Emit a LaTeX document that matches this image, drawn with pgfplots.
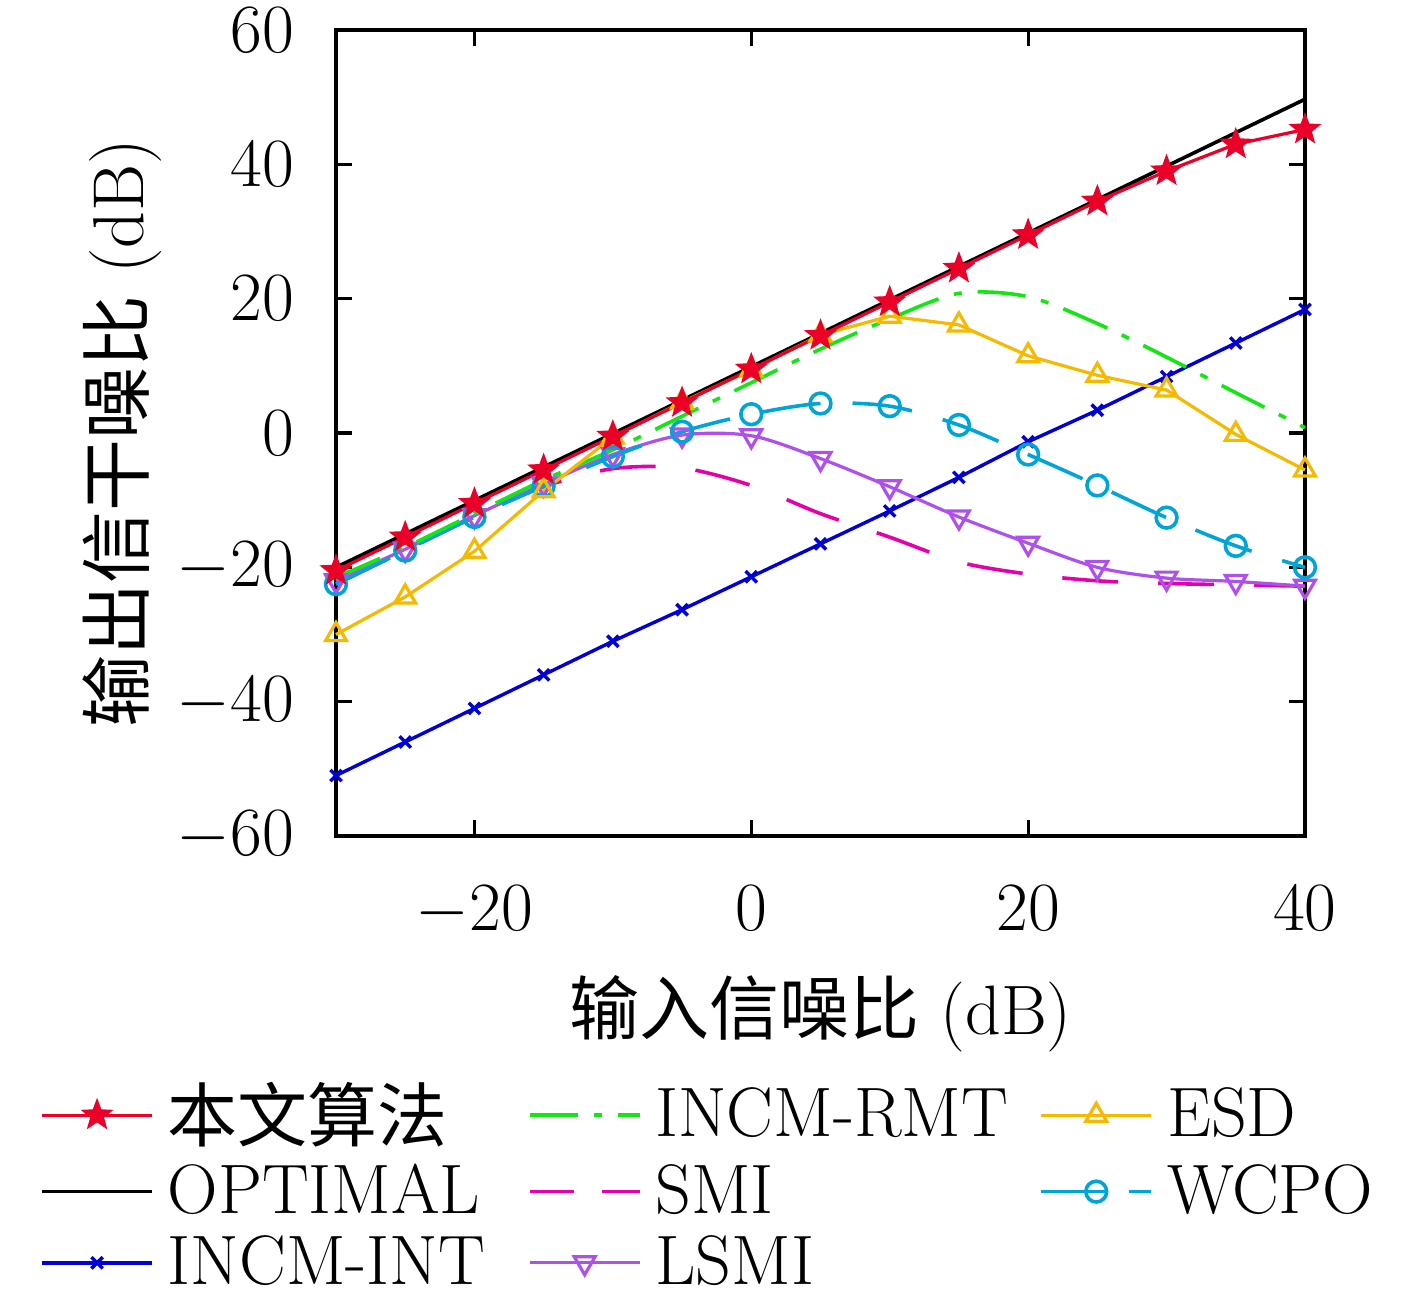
\documentclass[border=0pt]{standalone}
\usepackage{pgfplots}
\pgfplotsset{compat=1.18}
\usepackage{fontspec}
\newfontfamily\cjk{Noto Sans CJK SC}
\definecolor{cred}{RGB}{235,0,40}
\definecolor{cgreen}{RGB}{20,230,20}
\definecolor{cesd}{RGB}{245,185,0}
\definecolor{csmi}{RGB}{230,0,170}
\definecolor{cwcpo}{RGB}{0,165,215}
\definecolor{cint}{RGB}{0,0,215}
\definecolor{clsmi}{RGB}{175,80,235}
\pgfdeclareplotmark{fstar}{%
  \pgfpathmoveto{\pgfpointpolar{90}{\pgfplotmarksize}}%
  \pgfpathlineto{\pgfpointpolar{126}{0.42\pgfplotmarksize}}%
  \pgfpathlineto{\pgfpointpolar{162}{\pgfplotmarksize}}%
  \pgfpathlineto{\pgfpointpolar{198}{0.42\pgfplotmarksize}}%
  \pgfpathlineto{\pgfpointpolar{234}{\pgfplotmarksize}}%
  \pgfpathlineto{\pgfpointpolar{270}{0.42\pgfplotmarksize}}%
  \pgfpathlineto{\pgfpointpolar{306}{\pgfplotmarksize}}%
  \pgfpathlineto{\pgfpointpolar{342}{0.42\pgfplotmarksize}}%
  \pgfpathlineto{\pgfpointpolar{18}{\pgfplotmarksize}}%
  \pgfpathlineto{\pgfpointpolar{54}{0.42\pgfplotmarksize}}%
  \pgfpathclose\pgfusepathqfillstroke}
\begin{document}
\begin{tikzpicture}[font=\fontsize{16}{19}\selectfont]
\useasboundingbox (-84pt,-113.5pt) rectangle (270.25pt,209pt);
\begin{axis}[
  scale only axis, width=242.25pt, height=201.5pt,
  at={(0,0)}, anchor=south west,
  xmin=-30, xmax=40, ymin=-60, ymax=60,
  xtick={-20,0,20,40}, ytick={-60,-40,-20,0,20,40,60},
  axis line style={line width=0.8pt},
  every tick/.style={black, line width=0.8pt},
  major tick length=4pt,
  xticklabel style={yshift=-9pt},
  yticklabel style={xshift=-7pt},
  xlabel={{\cjk 输入信噪比} (dB)},
  ylabel={{\cjk 输出信干噪比} (dB)},
  xlabel style={at={(axis description cs:0.5,-0.22)}, anchor=center, font=\fontsize{17.5}{21}\selectfont},
  ylabel style={at={(axis description cs:-0.221,0.5)}, anchor=center, font=\fontsize{18}{21}\selectfont},
  clip=false,
  legend image code/.code={\draw[mark repeat=2,mark phase=2] plot coordinates {(0pt,0pt)(13.75pt,0pt)(27.5pt,0pt)};},
  legend columns=3,
  legend style={at={(axis description cs:-0.306,-0.295)}, anchor=north west, draw=none, fill=none, inner sep=0pt,
    font=\fontsize{17.5}{21}\selectfont,
    /tikz/every odd column/.append style={column sep=1.5pt},
    /tikz/row sep=0pt},
  legend cell align=left,
]
% OPTIMAL
\addplot[black, line width=0.9pt, forget plot] coordinates {(-30,-20) (40,49.7)};
% INCM-INT
\addplot[cint, line width=0.85pt, mark=x, mark size=2pt, forget plot] coordinates {
(-30,-51) (-25,-46) (-20,-41) (-15,-36) (-10,-31) (-5,-26.3) (0,-21.4) (5,-16.5) (10,-11.6) (15,-6.6) (20,-1.3) (25,3.4) (30,8.4) (35,13.4) (40,18.4)};
% SMI
\addplot[csmi, line width=0.9pt, smooth, dash pattern=on 14pt off 10pt, forget plot] coordinates {
(-30,-22.5) (-25,-17.5) (-20,-12.5) (-15,-8) (-10,-5.3) (-5,-5.2) (0,-7.8) (5,-12) (10,-15.5) (15,-19.2) (20,-21) (25,-22) (30,-22.4) (35,-22.6) (40,-22.8)};
% LSMI
\addplot[clsmi, line width=0.8pt, smooth, mark=triangle, mark options={rotate=180, solid}, mark size=3pt, forget plot] coordinates {
(-30,-22) (-25,-17.3) (-20,-12.3) (-15,-7.6) (-10,-3.2) (-5,-0.3) (0,-0.4) (5,-3.8) (10,-8) (15,-12.5) (20,-16.4) (25,-20) (30,-21.6) (35,-22.1) (40,-22.8)};
% WCPO
\addplot[cwcpo, line width=0.9pt, smooth, dash pattern=on 15pt off 8pt, mark=o, mark size=2.6pt, mark options={solid}, forget plot] coordinates {
(-30,-22.5) (-25,-17.5) (-20,-12.5) (-15,-7.9) (-10,-3.5) (-5,0.2) (0,2.8) (5,4.4) (10,4) (15,1.2) (20,-3.2) (25,-7.8) (30,-12.6) (35,-16.8) (40,-20)};
% INCM-RMT
\addplot[cgreen, line width=0.9pt, smooth, dash pattern=on 12pt off 4pt on 2pt off 4pt, forget plot] coordinates {
(-30,-21.5) (-25,-17) (-20,-12) (-15,-7) (-10,-2.5) (-5,2.5) (0,7.5) (5,12.5) (10,17) (15,20.8) (20,20.3) (25,16.3) (30,11.3) (35,6) (40,0.8)};
% ESD
\addplot[cesd, line width=0.8pt, mark=triangle, mark size=3pt, forget plot] coordinates {
(-30,-30) (-25,-24.4) (-20,-17.6) (-15,-8.6) (-10,-0.6) (-5,4.6) (0,9.4) (5,14.6) (10,17.4) (15,16.1) (20,11.5) (25,8.6) (30,6.4) (35,-0.2) (40,-5.5)};
% proposed
\addplot[cred, line width=0.8pt, mark=fstar, mark size=3.2pt, forget plot] coordinates {
(-30,-20.5) (-25,-15.5) (-20,-10.5) (-15,-5.5) (-10,-0.5) (-5,4.5) (0,9.5) (5,14.5) (10,19.5) (15,24.5) (20,29.5) (25,34.5) (30,39) (35,43) (40,45.2)};
% legend (row-wise)
\addlegendimage{cred, line width=0.8pt, mark=fstar, mark size=3.2pt}
\addlegendentry{\makebox[88pt][l]{\cjk 本文算法}}
\addlegendimage{cgreen, line width=0.9pt, dash pattern=on 12pt off 4pt on 2pt off 4pt}
\addlegendentry{\makebox[94pt][l]{INCM-RMT}}
\addlegendimage{cesd, line width=0.8pt, mark=triangle, mark size=3pt}
\addlegendentry{ESD}
\addlegendimage{black, line width=0.9pt}
\addlegendentry{\makebox[88pt][l]{OPTIMAL}}
\addlegendimage{csmi, line width=0.9pt, dash pattern=on 11pt off 7pt}
\addlegendentry{\makebox[94pt][l]{SMI}}
\addlegendimage{cwcpo, line width=0.9pt, dash pattern=on 16pt off 6pt, mark=o, mark size=2.6pt, mark options={solid}}
\addlegendentry{WCPO}
\addlegendimage{cint, line width=0.85pt, mark=x, mark size=2pt}
\addlegendentry{\makebox[88pt][l]{INCM-INT}}
\addlegendimage{clsmi, line width=0.8pt, mark=triangle, mark options={rotate=180, solid}, mark size=3pt}
\addlegendentry{\makebox[94pt][l]{LSMI}}
\end{axis}
\end{tikzpicture}
\end{document}
